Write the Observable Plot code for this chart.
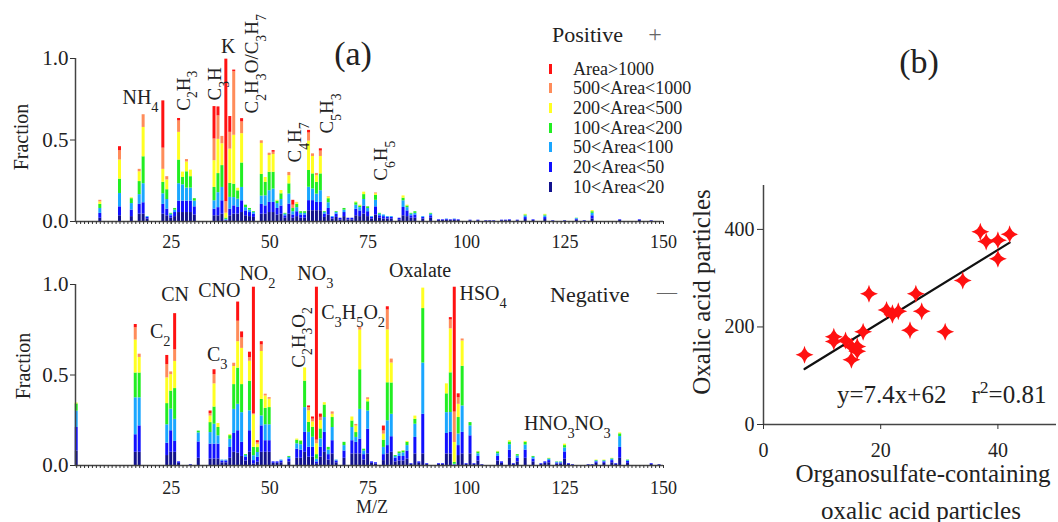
<!DOCTYPE html>
<html><head><meta charset="utf-8">
<script src="https://cdn.jsdelivr.net/npm/d3@7"></script>
<script src="https://cdn.jsdelivr.net/npm/@observablehq/plot@0.6"></script>
<style>
body{margin:0;background:#fff;}
#root{position:relative;width:1058px;height:522px;overflow:hidden;font-family:"Liberation Serif","Times New Roman",serif;color:#222;background:#fff;}
.abs{position:absolute;white-space:nowrap;line-height:1;}
.pw{position:absolute;}
.pw svg{max-width:none;font-family:"Liberation Serif","Times New Roman",serif;}
.pw svg text{font-family:"Liberation Serif","Times New Roman",serif;}
</style></head><body><div id="root"></div>
<script>
// ---------- categories ----------
const cats = ["10<Area<20","20<Area<50","50<Area<100","100<Area<200","200<Area<500","500<Area<1000","Area>1000"];
const catColors = ["#12128e","#1010ff","#1aa6ff","#22ee22","#ffff22","#ff8c5a","#ff1212"];

// ---------- (a) positive spectrum ----------
const posMz = [7,12,15,17,18,19,23,24,25,26, 27,28,29,30,31,36,37,38,39,40, 41,42,43,44,45,46,48,49,50,51, 52,53,54,55,56,57,58,59,60,61,
  62,63,64,65,66,67,68,69,70,71, 72,73,74,75,76,77,78,79,80,81, 83,84,85,86,87,89,91,93,94,95, 96,97,98,101,103,105,106,107,109,110,
  111,113,115,117,120,122,125,128,130,132, 139,144,147];
const posA10 = [.02,.035,.03,.045,.045,.015,.045,.035,.02,.03, .055,.055,.055,.055,.04,.035,.035,.045,.004,.035, .045,.045,.055,.035,.03,.025,.045,.045,.055,.055, .04,.045,.02,.045,.02,.03,.02,.02,.066,.066,
  .066,.066,.025,.04,.015,.025,.01,.03,.01,.01, .035,.03,.045,.03,.015,.04,.02,.015,.015,.015, .01,.035,.03,.02,.02,.015,.02,.006,.006,.008, .006,.008,.006,.005,.005,.003,.003,.003,.005,.005,
  .006,.005,.012,.006,.012,.003,.003,.008,.003,.015, .006,.006,.003];
const posA20 = [.03,.055,.04,.06,.07,.01,.06,.04,.015,.025, .07,.07,.07,.07,.05,.041,.05,.082,.004,.041, .051,.041,.072,.03,.025,.02,.06,.051,.062,.062, .04,.05,.015,.062,.02,.03,.02,.02,.062,.062,
  .051,.051,.02,.04,.01,.02,.01,.025,.01,.01, .04,.035,.05,.03,.01,.05,.015,.015,.01,.01, .01,.051,.035,.015,.02,.01,.015,.004,.004,.005, .004,.005,.004,.003,.003,.002,.002,.002,.003,.003,
  .004,.003,.012,.004,.012,.002,.002,.006,.002,.02, .004,.004,.002];
const posA50 = [.03,.082,.04,.06,.117,.005,.065,.06,.01,.015, .107,.1,.08,.08,.035,.051,.092,.082,.005,.072, .051,.051,.082,.02,.015,.01,.051,.062,.072,.082, .03,.04,.01,.062,.02,.025,.01,.01,.082,.072,
  .051,.072,.01,.035,.005,.01,0,.015,0,0, .025,.02,.04,.02,.005,.04,.01,.01,.005,.005, 0,.041,.02,.01,.01,.005,.01,0,0,.002, 0,.002,0,0,0,0,0,0,0,0,
  0,0,.01,0,.01,0,0,.004,0,.015, 0,0,0];
const posA100 = [.025,.088,.03,.08,.165,0,.07,.06,.005,.01, .145,.045,.1,.07,.015,.082,.117,.134,.008,.086, .082,.051,.15,.015,.01,.005,.133,.082,.113,.103, .015,.035,.005,.062,.02,.02,.01,.01,.103,.092,
  .072,.103,.005,.025,0,.005,0,.01,0,0, .015,.01,.03,.01,0,.03,.005,0,0,0, 0,.016,.01,.005,.01,0,.005,0,0,0, 0,0,0,0,0,0,0,0,0,0,
  0,0,.006,0,.006,0,0,.002,0,.01, 0,0,0];
const posA200 = [.015,.117,.005,.06,.18,0,.08,.06,0,0, .17,.033,.06,.04,0,.164,.21,.134,.03,.21, .3,.016,.18,0,0,0,.19,.03,.103,.109, .005,.02,0,.05,0,.01,0,0,.18,.107,
  .041,.107,0,.01,0,0,0,0,0,0, .005,.005,.015,0,0,.01,0,0,0,0, 0,.014,.005,0,0,0,0,0,0,0, 0,0,0,0,0,0,0,0,0,0,
  0,0,.004,0,.004,0,0,0,0,.007, 0,0,0];
const posA500 = [.01,.057,0,.015,.078,0,.13,.02,0,0, .07,0,.015,0,0,.133,.144,.045,.07,.103, .39,0,.072,0,0,0,.016,0,.014,.014, 0,0,0,.02,.02,.002,0,0,.05,.016,
  .014,.033,0,.003,0,0,0,0,0,0, 0,0,0,0,0,.005,0,0,0,0, 0,0,0,0,0,0,0,0,0,0, 0,0,0,0,0,0,0,0,0,0,
  0,0,0,0,0,0,0,0,0,0, 0,0,0];
const posA1000 = [0,.025,0,0,0,0,.29,0,0,0, .015,0,0,0,0,.199,.055,0,.875,.097, .01,0,.02,0,0,0,0,0,0,.01, 0,0,0,0,.03,0,0,0,.016,0,
  0,.014,0,0,0,0,0,0,0,0, 0,0,0,0,0,0,0,0,0,0, 0,0,0,0,0,0,0,0,0,0, 0,0,0,0,0,0,0,0,0,0,
  0,0,0,0,0,0,0,0,0,0, 0,0,0];

// ---------- (a) negative spectrum ----------
const negMz = [1,16,17,24,25,26,27,30,32,35, 36,37,38,39,40,41,42,43,44,45, 46,47,48,49,50,51,52,53,55,57, 58,59,60,61,62,63,64,65,66,67,
  69,71,72,73,74,75,76,77,79,80, 81,82,83,84,85,86,87,88,89,90, 93,94,95,96,97,98,99,100,101,102, 103,104,108,109,111,112,113,115,117,119,
  120,121,123,124,125,126,127,131,132,133, 135,137,138,139,141,147,149];
const negA10 = [.08,.073,.073,.055,.073,.073,.012,.003,.04,.036, .036,.036,.015,.015,.04,.073,.068,.05,.025,.073, .009,.018,.073,.073,.073,.012,.012,.015,.02,.04, .04,.073,.046,.046,.01,.046,.073,.03,.064,.015,
  .04,.064,.064,.064,.03,.064,.012,.008,.027,.064, .073,.02,.025,.025,.035,.006,.064,.012,.064,.006, .006,.006,.064,.064,.001,.055,.064,.006,.064,.006, .025,.003,.025,.012,.04,.006,.02,.04,.02,.006,
  .012,.015,.008,.008,.035,.006,.003,.003,.003,.012, .012,.015,.006,.04,.012,.006,.003];
const negA20 = [.13,.097,.146,.068,.119,.06,.008,.002,.09,.082, .082,.082,.01,.01,.06,.104,.124,.078,.02,.119, .018,.027,.146,.064,.064,.008,.008,.01,.015,.05, .045,.11,.055,.055,.01,.055,.11,.03,.073,.01,
  .04,.073,.064,.082,.03,.137,.008,.007,.033,.046, .086,.02,.025,.025,.045,.004,.091,.008,.219,.004, .004,.004,.113,.119,.002,.055,.119,.004,.1,.004, .025,.002,.025,.008,.045,.004,.02,.045,.015,.004,
  .008,.012,.006,.006,.04,.004,.002,.002,.002,.008, .008,.012,.004,.06,.01,.004,.002];
const negA50 = [.09,.204,.155,.102,.119,.122,0,0,.05,.064, .11,.046,.005,.005,.045,.133,.146,.164,.01,.11, .027,.027,.055,.088,.088,0,0,.005,.01,.03, .03,.137,.082,.055,.015,.046,.082,.025,.073,.005,
  .03,.073,.027,.164,.02,.1,0,0,.04,.137, .124,.01,.015,.02,.03,0,.073,0,.283,0, 0,0,.115,.11,.004,.064,.146,0,.055,0, .015,0,.015,0,.03,0,.012,.028,.01,0,
  0,.008,.004,.004,.022,0,0,0,0,.005, .005,.008,0,.06,.005,0,0];
const negA100 = [.04,.137,.137,.117,.1,.17,0,0,.01,.055, .095,.046,0,0,.02,.137,.2,.155,.005,.164, .046,.027,.091,.091,.095,0,0,0,.005,.02, .02,.146,.055,.055,.025,.055,.069,.015,.055,0,
  .018,.036,.027,.219,.01,.051,0,0,.04,.21, .173,.005,.01,.01,.018,0,.027,0,.301,0, 0,0,.104,.219,.01,.091,.219,0,.018,0, .01,0,.01,0,.015,0,.008,.015,.005,0,
  0,.003,.002,.002,.013,0,0,0,0,.003, .003,.003,0,.015,.003,0,0];
const negA200 = [.005,.182,.086,.142,.091,.15,0,0,0,.036, .128,.022,0,0,.005,.1,.146,.2,0,.11, .18,.018,.265,.068,.046,0,0,0,0,.006, .002,.073,.064,.03,.06,.046,.013,0,.018,0,
  0,.022,.036,.219,0,.013,0,0,.033,.292, .11,0,.002,.002,.005,0,.018,0,.113,0, 0,0,.055,.243,.11,.073,.14,0,0,0, .003,0,.003,0,.007,0,0,.005,0,0,
  0,.002,0,0,.008,0,0,0,0,.002, .002,.002,0,.005,0,0,0];
const negA500 = [0,.068,.018,.073,.015,.064,0,0,0,.013, .051,0,0,0,0,.018,.113,.058,0,.02, .005,.01,.036,.01,.009,0,0,0,0,0, 0,0,.018,.015,.02,.018,0,0,.013,0,
  0,0,.009,.018,0,.009,0,0,.018,.11, .022,0,0,0,0,0,0,0,0,0, 0,0,0,.049,.168,.036,.011,0,0,0, 0,0,0,0,0,0,0,0,0,0,
  0,0,0,0,0,0,0,0,0,0, 0,0,0,0,0,0,0];
const negA1000 = [0,.018,0,.051,0,.2,0,0,0,.015, .027,0,0,0,0,0,.106,.033,0,.03, .7,.01,.018,0,0,0,0,0,0,0, 0,0,.009,.012,.845,.018,0,0,0,0,
  0,0,0,0,0,0,0,0,.027,.018, 0,0,0,0,0,0,0,0,0,0, 0,0,0,.013,.69,.022,0,0,0,0, 0,0,0,0,0,0,0,0,0,0,
  0,0,0,0,0,0,0,0,0,0, 0,0,0,0,0,0,0];

// ---------- peak annotations ----------
const posLabelsH = [{text:"NH4",x:17.2,y:0.76},{text:"K",x:39.5,y:1.07}];
const posLabelsV = [{text:"C2H3",x:28.1,y:0.68},{text:"C3H",x:36.2,y:0.742},{text:"C2H3O/C3H7",x:45.6,y:0.663},
  {text:"C4H7",x:56.5,y:0.362},{text:"C5H3",x:64.6,y:0.54},{text:"C6H5",x:78.3,y:0.25}];
const negLabelsH = [{text:"C2",x:22.2,y:0.74},{text:"CN",x:26.0,y:0.945},{text:"CNO",x:37.2,y:0.967},{text:"NO2",x:46.9,y:1.06},
  {text:"C3",x:36.7,y:0.612},{text:"NO3",x:61.6,y:1.06},{text:"C3H5O2",x:71.2,y:0.845},{text:"Oxalate",x:88.2,y:1.078},
  {text:"HSO4",x:104.2,y:0.95},{text:"HNO3NO3",x:125.6,y:0.23}];
const negLabelsV = [{text:"C2H3O2",x:57.3,y:0.54}];

// ---------- axes ----------
const xDomain = [0.7, 150];
const majorTicks = [25,50,75,100,125,150];
const minorTicks = d3.range(1,151);
const yTicks = [0,0.5,1];

// ---------- (b) scatter ----------
const osX = [7,12,12,14,15,15,16,16,17,18,21,22,22,23,25,26,27,31,34,37,38,40,40,42];
const oxY = [143,180,170,172,160,133,150,160,190,268,235,228,225,232,193,268,232,190,295,395,375,378,340,390];
const fitSlope = 7.4, fitIntercept = 62, fitRange = [7, 42];
const scXTicks = [0,20,40], scYTicks = [0,200,400];

const FONT = '"Liberation Serif","Times New Roman",serif';
const root = document.getElementById("root");

function stackRows(mz, series){
  const rows=[];
  mz.forEach((m,i)=>{ let c=0; series.forEach((s,k)=>{ const v=s[i]; if(v>0){ rows.push({mz:m,cat:cats[k],y1:c,y2:c+v}); c+=v; } }); });
  return rows;
}
function subscript(svg){
  d3.select(svg).selectAll("text").each(function(){
    const t=this.textContent;
    if(!/^[A-Z]/.test(t) || !/\d/.test(t)) return;
    const el=d3.select(this); el.text(null);
    t.split(/(\d+)/).forEach(p=>{ if(!p) return; const s=el.append("tspan").text(p); if(/^\d+$/.test(p)) s.attr("baseline-shift","sub").attr("font-size","72%"); });
  });
}
function spectrum(rows, hL, vL, mt, mb, pad){
  const svg = Plot.plot({
    width:700,height:260,marginLeft:75,marginRight:37,marginTop:mt,marginBottom:mb,
    style:{fontFamily:FONT,color:"#333",background:"transparent",overflow:"visible"},
    x:{domain:xDomain,label:null}, y:{domain:[0,1],label:null},
    color:{domain:cats,range:catColors},
    marks:[
      Plot.rect(rows,{x1:d=>d.mz-0.38,x2:d=>d.mz+0.38,y1:"y1",y2:"y2",fill:"cat"}),
      Plot.ruleX([xDomain[0]],{stroke:"#444",strokeWidth:1.5}),
      Plot.ruleY([0],{stroke:"#444",strokeWidth:1.5}),
      Plot.axisX({ticks:minorTicks,tickSize:3,tickFormat:()=>"",label:null}),
      Plot.axisX({ticks:majorTicks,tickSize:3,tickPadding:pad,fontSize:18,fontFamily:FONT,label:null,fill:"#222"}),
      Plot.axisY({ticks:yTicks,tickSize:5,tickPadding:2,fontSize:21,fontFamily:FONT,tickFormat:d3.format(".1f"),label:null,fill:"#222"}),
      Plot.text(hL,{x:"x",y:"y",text:"text",fontSize:20,fontFamily:FONT,fill:"#222"}),
      Plot.text(vL,{x:"x",y:"y",text:"text",fontSize:19,fontFamily:FONT,fill:"#222",rotate:-90,textAnchor:"start"})
    ]
  });
  subscript(svg);
  return svg;
}
function addPlot(svg, left, top){
  const w=document.createElement("div"); w.className="pw"; w.style.left=left+"px"; w.style.top=top+"px";
  w.appendChild(svg); root.appendChild(w);
}
function place(html,x,y,size,opt={}){
  const d=document.createElement("div"); d.className="abs"; d.innerHTML=html;
  d.style.left=x+"px"; d.style.top=y+"px"; d.style.fontSize=size+"px";
  if(opt.color) d.style.color=opt.color;
  const tx = opt.left ? "0" : "-50%";
  d.style.transform=`translate(${tx},-50%)`+(opt.rotate?` rotate(${opt.rotate}deg)`:"");
  root.appendChild(d); return d;
}

// top panel
addPlot(spectrum(stackRows(posMz,[posA10,posA20,posA50,posA100,posA200,posA500,posA1000]), posLabelsH, posLabelsV, 58, 39, 11), 0, 0);
// bottom panel
addPlot(spectrum(stackRows(negMz,[negA10,negA20,negA50,negA100,negA200,negA500,negA1000]), negLabelsH, negLabelsV, 34, 45, 13), 0, 250);

// scatter
const star4 = { draw(ctx, size){ const R=Math.sqrt(size/Math.PI), k=R*0.17;
  ctx.moveTo(0,-R); ctx.quadraticCurveTo(k,-k,R,0); ctx.quadraticCurveTo(k,k,0,R); ctx.quadraticCurveTo(-k,k,-R,0); ctx.quadraticCurveTo(-k,-k,0,-R); ctx.closePath(); } };
const pts = osX.map((x,i)=>({x, y:oxY[i]}));
const fit = fitRange.map(x=>({x, y:fitSlope*x+fitIntercept}));
const sc = Plot.plot({
  width:358,height:372,marginLeft:63,marginRight:2,marginTop:35,marginBottom:98,
  style:{fontFamily:FONT,color:"#333",background:"transparent",overflow:"visible"},
  x:{domain:[0,50],label:null}, y:{domain:[0,490],label:null},
  marks:[
    Plot.ruleX([0],{stroke:"#444",strokeWidth:1.5}),
    Plot.ruleY([0],{stroke:"#444",strokeWidth:1.5}),
    Plot.axisX({ticks:scXTicks,tickSize:5,tickPadding:13,fontSize:20,fontFamily:FONT,label:null,fill:"#222"}),
    Plot.axisY({ticks:scYTicks,tickSize:6,tickPadding:3,fontSize:20,fontFamily:FONT,label:null,fill:"#222"}),
    Plot.line(fit,{x:"x",y:"y",stroke:"#111",strokeWidth:2.2}),
    Plot.dot(pts,{x:"x",y:"y",symbol:star4,r:9,fill:"#ff1010",stroke:"none"})
  ]
});
addPlot(sc, 700, 150);

// text
place("(a)",353,54,34);
place("(b)",919,62,34);
place("Positive",552,35,22,{left:true});
place("+",655,34,24,{color:"#666"});
const legY=[69,88,108,128,147,167,187];
cats.slice().reverse().forEach((c,i)=>{
  const sw=document.createElement("div"); sw.style.cssText=`position:absolute;left:549px;top:${legY[i]-5}px;width:3px;height:10px;background:${catColors[6-i]}`;
  root.appendChild(sw);
  place(c.replace(/</g,"&lt;").replace(/>/g,"&gt;"),573,legY[i],18,{left:true});
});
place("Negative",550,295,22,{left:true});
place("—",667,292,20,{color:"#666"});
place("Fraction",21,137,20,{rotate:-90});
place("Fraction",23,366,20,{rotate:-90});
place("M/Z",372,507,18);
place("Oxalic acid particles",701,292,25,{rotate:-90});
place("Organosulfate-containing",923,473,25);
place("oxalic acid particles",921,510,25);
place('y=7.4x+62&nbsp;&nbsp;&nbsp; r<sup style="font-size:0.7em;vertical-align:0.55em">2</sup>=0.81',837,393,25,{left:true});
</script></body></html>
